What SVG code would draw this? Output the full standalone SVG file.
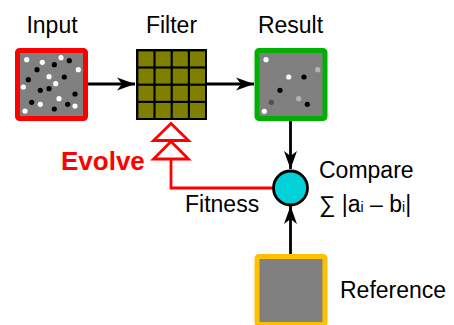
<svg xmlns="http://www.w3.org/2000/svg" width="454" height="325" viewBox="0 0 454 325">
  <defs>
    <style>
      .lbl { font-family: "Liberation Sans", Arial, sans-serif; font-size: 23px; fill: #000; }
      .evolve { font-family: "Liberation Sans", Arial, sans-serif; font-size: 26px; font-weight: bold; fill: #ff0000; }
      .wire { stroke: #000; stroke-width: 2.8; fill: none; }
      .fb { stroke: #ff0000; stroke-width: 2.8; fill: none; }
      .tri { stroke: #ff0000; stroke-width: 2.8; fill: #fff; stroke-linejoin: miter; }
      .img { fill: #808080; stroke-width: 5; }
      .w { fill: #fff; }
      .k { fill: #000; }
      .lg { fill: #b4b4b4; }
      .dg { fill: #505050; }
      .cell { fill: #808000; }
    </style>
    <marker id="arrow" viewBox="-19 -7 20 14" refX="0" refY="0" markerWidth="20" markerHeight="14" markerUnits="userSpaceOnUse" orient="auto">
      <path d="M0,0 L-18,-6.5 L-13,0 L-18,6.5 Z" fill="#000"/>
    </marker>
  </defs>

  <!-- connectors -->
  <g id="connectors">
    <line class="wire" x1="88" y1="84" x2="135" y2="84" marker-end="url(#arrow)"/>
    <line class="wire" x1="207" y1="84" x2="254" y2="84" marker-end="url(#arrow)"/>
    <line class="wire" x1="290.5" y1="121" x2="290.5" y2="169" marker-end="url(#arrow)"/>
    <line class="wire" x1="290.5" y1="254" x2="290.5" y2="206" marker-end="url(#arrow)"/>
    <!-- fitness feedback path -->
    <polyline class="fb" points="273,188 171,188 171,159"/>
    <polygon class="tri" points="171,141.5 188.5,159 153.5,159"/>
    <polygon class="tri" points="171,123.5 188.5,140.5 153.5,140.5"/>
  </g>

  <!-- input image -->
  <g id="input">
    <text class="lbl" x="52" y="33" text-anchor="middle">Input</text>
    <rect class="img" x="17.5" y="50.5" width="68" height="68" rx="2" stroke="#ff0000"/>
    <g class="w">
      <circle cx="26.7" cy="59.7" r="2.6"/><circle cx="42.3" cy="62.3" r="2.6"/>
      <circle cx="61" cy="57.7" r="2.6"/><circle cx="78.3" cy="69.7" r="2.6"/>
      <circle cx="49" cy="76.7" r="2.6"/><circle cx="23.3" cy="87" r="2.6"/>
      <circle cx="55.7" cy="83.7" r="2.6"/><circle cx="59" cy="98.7" r="2.6"/>
      <circle cx="40.3" cy="104.3" r="2.6"/><circle cx="75" cy="106" r="2.6"/>
      <circle cx="25" cy="111" r="2.6"/>
    </g>
    <g class="k">
      <circle cx="37" cy="69.7" r="2.6"/><circle cx="54.3" cy="64.7" r="2.6"/>
      <circle cx="69.3" cy="60.7" r="2.6"/><circle cx="28.3" cy="79.7" r="2.6"/>
      <circle cx="64.3" cy="77" r="2.6"/><circle cx="40.3" cy="90.3" r="2.6"/>
      <circle cx="49" cy="88.7" r="2.6"/><circle cx="75" cy="94" r="2.6"/>
      <circle cx="31.7" cy="102.3" r="2.6"/><circle cx="67.7" cy="104.3" r="2.6"/>
      <circle cx="54.3" cy="109" r="2.6"/>
    </g>
  </g>

  <!-- 4x4 filter kernel -->
  <g id="filter">
    <text class="lbl" x="171.5" y="33" text-anchor="middle">Filter</text>
    <rect x="136" y="49" width="71" height="71" fill="#000"/>
    <g class="cell">
      <rect x="138.4" y="51.4" width="15" height="15"/><rect x="155.6" y="51.4" width="15" height="15"/>
      <rect x="172.8" y="51.4" width="15" height="15"/><rect x="190" y="51.4" width="15" height="15"/>
      <rect x="138.4" y="68.6" width="15" height="15"/><rect x="155.6" y="68.6" width="15" height="15"/>
      <rect x="172.8" y="68.6" width="15" height="15"/><rect x="190" y="68.6" width="15" height="15"/>
      <rect x="138.4" y="85.8" width="15" height="15"/><rect x="155.6" y="85.8" width="15" height="15"/>
      <rect x="172.8" y="85.8" width="15" height="15"/><rect x="190" y="85.8" width="15" height="15"/>
      <rect x="138.4" y="103" width="15" height="15"/><rect x="155.6" y="103" width="15" height="15"/>
      <rect x="172.8" y="103" width="15" height="15"/><rect x="190" y="103" width="15" height="15"/>
    </g>
  </g>

  <!-- filtered result -->
  <g id="result">
    <text class="lbl" x="290.5" y="33" text-anchor="middle">Result</text>
    <rect class="img" x="257" y="50.5" width="68" height="68" rx="2" stroke="#00b000"/>
    <circle class="w" cx="266" cy="59.7" r="2.6"/>
    <circle class="w" cx="288.7" cy="77" r="2.6"/>
    <circle class="w" cx="264.3" cy="111.3" r="2.6"/>
    <circle class="lg" cx="317.7" cy="69.7" r="2.6"/>
    <circle class="lg" cx="298.7" cy="98.7" r="2.6"/>
    <circle class="k" cx="304" cy="77" r="2.6"/>
    <circle class="k" cx="280" cy="90.3" r="2.6"/>
    <circle class="k" cx="307.3" cy="104.3" r="2.6"/>
    <circle class="dg" cx="271.3" cy="102.3" r="2.6"/>
  </g>

  <!-- comparison node -->
  <g id="compare">
    <circle cx="290.5" cy="188" r="17" fill="#00d2d8" stroke="#000" stroke-width="2.8"/>
    <text class="lbl" x="319" y="178">Compare</text>
    <text class="lbl" x="319" y="212">∑ |a<tspan font-size="14">i</tspan> – b<tspan font-size="14">i</tspan>|</text>
  </g>

  <!-- reference image -->
  <g id="reference">
    <rect x="257" y="256.5" width="68" height="68" rx="2" fill="#808080" stroke="#ffc000" stroke-width="5"/>
    <text class="lbl" x="340" y="298">Reference</text>
  </g>

  <!-- labels on the feedback path -->
  <g id="evolve">
    <text class="evolve" x="61" y="170">Evolve</text>
  </g>
  <g id="fitness">
    <text class="lbl" x="185" y="212">Fitness</text>
  </g>
</svg>
